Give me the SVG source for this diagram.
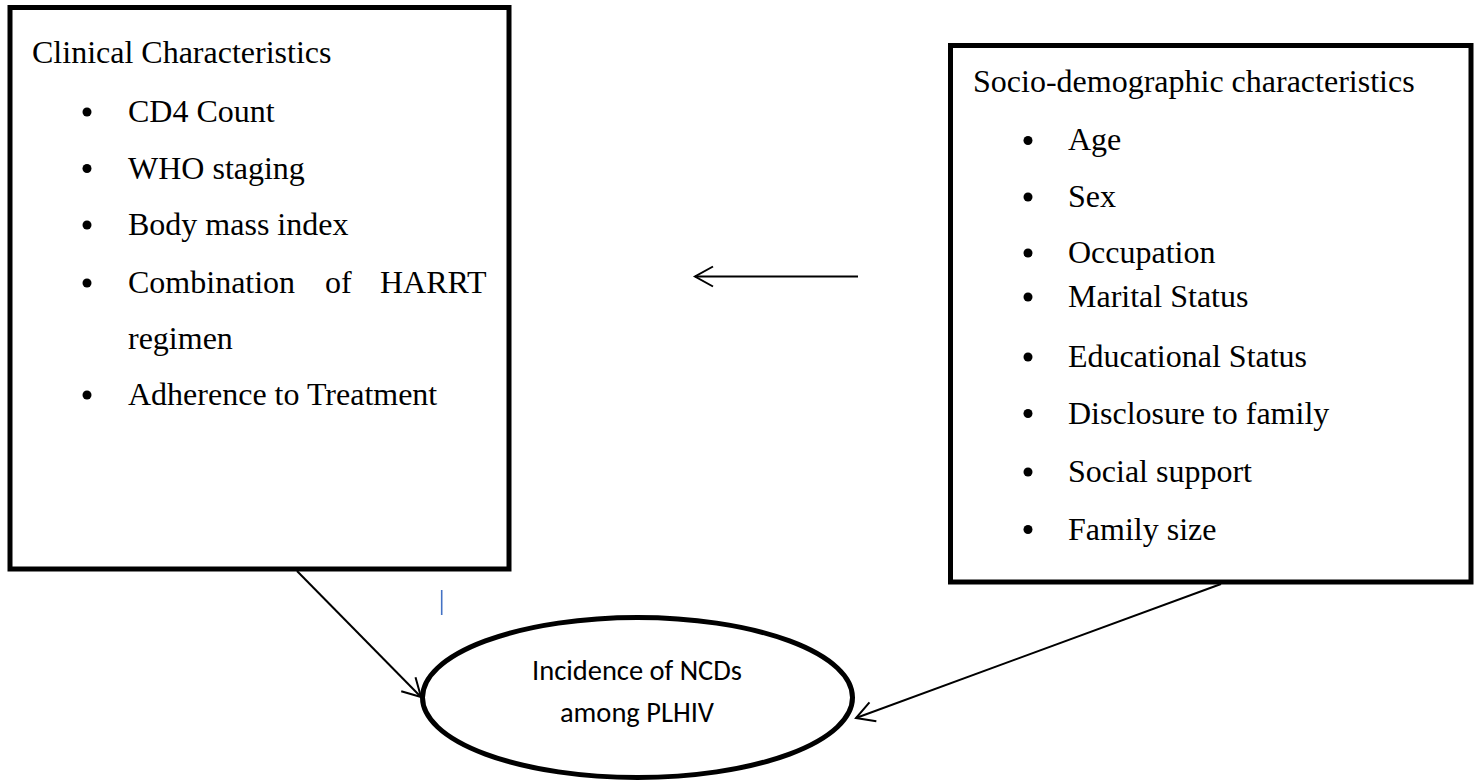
<svg xmlns="http://www.w3.org/2000/svg" width="1478" height="781" viewBox="0 0 1478 781">
  <style>
    .box { fill: #ffffff; stroke: #000000; stroke-width: 5; }
    .t { font-family: "Liberation Serif", "Times New Roman", serif; font-size: 32px; fill: #000000; }
    .b { fill: #000000; }
    .lbl { font-family: "Carlito", "Liberation Sans", Arial, sans-serif; font-size: 28.5px; fill: #000000; text-anchor: middle; }
    .conn { fill: none; stroke: #000000; stroke-width: 2; }
  </style>
  <defs>
    <marker id="arr" markerUnits="userSpaceOnUse" viewBox="0 0 24 24" markerWidth="24" markerHeight="24" refX="20" refY="12" orient="auto">
      <path d="M2 2 L20 12 L2 22" fill="none" stroke="#000000" stroke-width="2"/>
    </marker>
  </defs>
  <rect width="1478" height="781" fill="#ffffff"/>

  <g id="clinical">
    <rect class="box" x="10" y="7.5" width="499" height="561.5"/>
    <text class="t" x="32" y="63">Clinical Characteristics</text>
    <circle class="b" cx="87" cy="112" r="4.5"/>
    <text class="t" x="128" y="122">CD4 Count</text>
    <circle class="b" cx="87" cy="168.5" r="4.5"/>
    <text class="t" x="128" y="178.5">WHO staging</text>
    <circle class="b" cx="87" cy="225" r="4.5"/>
    <text class="t" x="128" y="235">Body mass index</text>
    <circle class="b" cx="87" cy="283" r="4.5"/>
    <text class="t" y="293"><tspan x="128">Combination</tspan><tspan x="325">of</tspan><tspan x="380">HARRT</tspan></text>
    <text class="t" x="128" y="349">regimen</text>
    <circle class="b" cx="87" cy="395" r="4.5"/>
    <text class="t" x="128" y="405">Adherence to Treatment</text>
  </g>

  <g id="socio">
    <rect class="box" x="950.5" y="45.5" width="520.5" height="536.5"/>
    <text class="t" x="973" y="92">Socio-demographic characteristics</text>
    <circle class="b" cx="1028" cy="140.5" r="4.5"/>
    <text class="t" x="1068" y="150">Age</text>
    <circle class="b" cx="1028" cy="197" r="4.5"/>
    <text class="t" x="1068" y="207">Sex</text>
    <circle class="b" cx="1028" cy="253" r="4.5"/>
    <text class="t" x="1068" y="263">Occupation</text>
    <circle class="b" cx="1028" cy="297" r="4.5"/>
    <text class="t" x="1068" y="307">Marital Status</text>
    <circle class="b" cx="1028" cy="357" r="4.5"/>
    <text class="t" x="1068" y="367">Educational Status</text>
    <circle class="b" cx="1028" cy="413.5" r="4.5"/>
    <text class="t" x="1068" y="423.5">Disclosure to family</text>
    <circle class="b" cx="1028" cy="472" r="4.5"/>
    <text class="t" x="1068" y="482">Social support</text>
    <circle class="b" cx="1028" cy="529.5" r="4.5"/>
    <text class="t" x="1068" y="539.5">Family size</text>
  </g>

  <g id="outcome">
    <ellipse cx="637.5" cy="697.5" rx="215" ry="80" fill="#ffffff" stroke="#000000" stroke-width="5"/>
    <text class="lbl" x="637" y="680">Incidence of NCDs</text>
    <text class="lbl" x="637" y="722">among PLHIV</text>
  </g>

  <g id="connectors">
    <line class="conn" x1="858" y1="276.5" x2="695" y2="276.5" marker-end="url(#arr)"/>
    <line class="conn" x1="297" y1="571" x2="421" y2="697" marker-end="url(#arr)"/>
    <line class="conn" x1="1221" y1="584" x2="856" y2="718" marker-end="url(#arr)"/>
  </g>

  <g id="cursor-mark">
    <line x1="441.7" y1="590" x2="441.7" y2="615" stroke="#4472C4" stroke-width="1.6"/>
  </g>
</svg>
